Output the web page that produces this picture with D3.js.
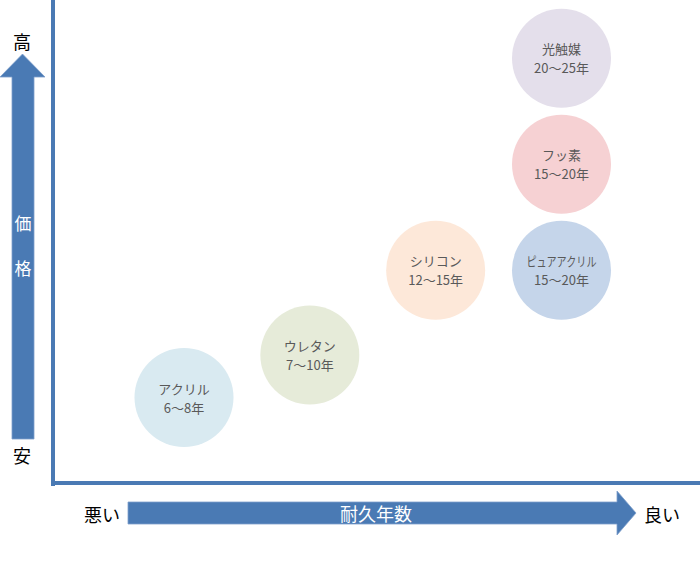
<!DOCTYPE html>
<html><head><meta charset="utf-8">
<script src="https://cdn.jsdelivr.net/npm/d3@7"></script>
<style>html,body{margin:0;padding:0;background:#fff;}svg{display:block;}</style>
</head><body>
<svg id="chart" width="700" height="574"></svg>
<script>
const names = ["アクリル", "ウレタン", "シリコン", "ピュアアクリル", "フッ素", "光触媒"];
const years = ["6～8年", "7～10年", "12～15年", "15～20年", "15～20年", "20～25年"];
const durability = [1, 2, 3, 4, 4, 4];
const price = [1, 1.4, 2.2, 2.2, 3.2, 4.2];
const colors = ["#d9eaf1", "#e6ebd9", "#fde8d9", "#c5d5ea", "#f6d1d3", "#e4dfeb"];

const blue = "#4a7ab4";
const font = "'Noto Sans CJK JP', 'Noto Sans', sans-serif";
const svg = d3.select("#chart");

const x = d3.scaleLinear().domain([1, 4]).range([184, 561.5]);
const y = d3.scaleLinear().domain([1, 4.2]).range([397.5, 58.3]);
const r = 49.5;

// axes lines
svg.append("rect").attr("x", 51).attr("y", 0).attr("width", 4).attr("height", 486).attr("fill", blue);
svg.append("rect").attr("x", 51).attr("y", 481).attr("width", 649).attr("height", 4).attr("fill", blue);

// vertical arrow (price)
svg.append("path")
  .attr("d", "M12,439 L12,77 L0,77 L22.5,54 L45,77 L34,77 L34,439 Z")
  .attr("fill", blue).attr("stroke", "#7fa0cc").attr("stroke-width", 0.8);
svg.append("text").attr("x", 23).attr("y", 222).attr("text-anchor", "middle").attr("dominant-baseline", "central")
  .attr("font-family", font).attr("font-size", 17).attr("fill", "#fff").text("価");
svg.append("text").attr("x", 23).attr("y", 267).attr("text-anchor", "middle").attr("dominant-baseline", "central")
  .attr("font-family", font).attr("font-size", 17).attr("fill", "#fff").text("格");
svg.append("text").attr("x", 22).attr("y", 41).attr("text-anchor", "middle").attr("dominant-baseline", "central")
  .attr("font-family", font).attr("font-size", 18).attr("fill", "#000").text("高");
svg.append("text").attr("x", 22).attr("y", 455).attr("text-anchor", "middle").attr("dominant-baseline", "central")
  .attr("font-family", font).attr("font-size", 18).attr("fill", "#000").text("安");

// horizontal arrow (durability)
svg.append("path")
  .attr("d", "M128,502 L617,502 L617,491 L636,513 L617,535 L617,524 L128,524 Z")
  .attr("fill", blue).attr("stroke", "#7fa0cc").attr("stroke-width", 0.8);
svg.append("text").attr("x", 376).attr("y", 513).attr("text-anchor", "middle").attr("dominant-baseline", "central")
  .attr("font-family", font).attr("font-size", 18).attr("fill", "#fff").text("耐久年数");
svg.append("text").attr("x", 102).attr("y", 514).attr("text-anchor", "middle").attr("dominant-baseline", "central")
  .attr("font-family", font).attr("font-size", 18).attr("fill", "#000").text("悪い");
svg.append("text").attr("x", 662).attr("y", 514).attr("text-anchor", "middle").attr("dominant-baseline", "central")
  .attr("font-family", font).attr("font-size", 18).attr("fill", "#000").text("良い");

// bubbles
const data = names.map((n, i) => ({name: n, years: years[i], d: durability[i], p: price[i], c: colors[i]}));
const g = svg.selectAll("g.bubble").data(data).enter().append("g").attr("class", "bubble")
  .attr("transform", d => `translate(${x(d.d)},${y(d.p)})`);
g.append("circle").attr("r", r).attr("fill", d => d.c);
g.append("text").attr("y", -9.5).attr("text-anchor", "middle").attr("dominant-baseline", "central")
  .attr("font-family", font).attr("font-size", 13).attr("fill", "#595959")
  .each(function(d) {
    if (d.name.length > 5) d3.select(this).attr("textLength", 70).attr("lengthAdjust", "spacingAndGlyphs");
  })
  .text(d => d.name);
g.append("text").attr("y", 9.5).attr("text-anchor", "middle").attr("dominant-baseline", "central")
  .attr("font-family", font).attr("font-size", 13).attr("fill", "#595959").text(d => d.years);
</script>
</body></html>
